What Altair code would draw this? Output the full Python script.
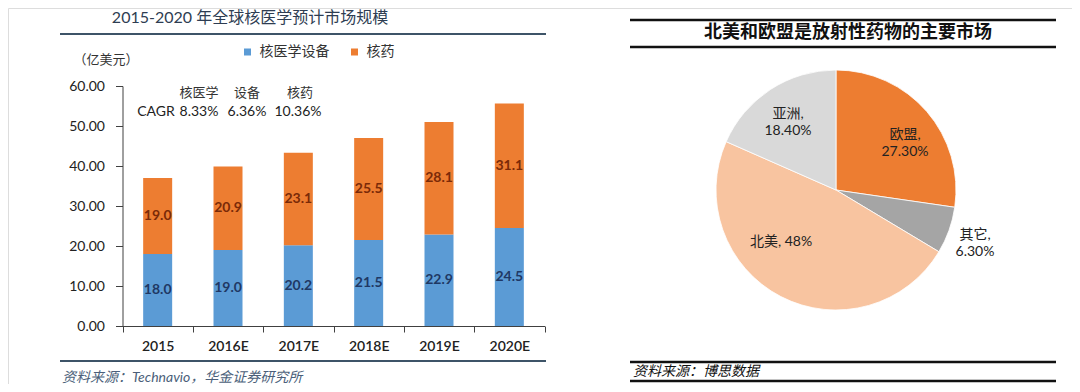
import altair as alt
import pandas as pd

# ---------------- data ----------------
years = ['2015', '2016E', '2017E', '2018E', '2019E', '2020E']
equipment = [18.0, 19.0, 20.2, 21.5, 22.9, 24.5]
drugs = [19.0, 20.9, 23.1, 25.5, 28.1, 31.1]
series_names = ['核医学设备', '核药']
y_ticks = [0, 10, 20, 30, 40, 50, 60]
cagr_heads = ['核医学', '设备', '核药']
cagr_values = ['8.33%', '6.36%', '10.36%']

regions = ['欧盟', '其它', '北美', '亚洲']
shares = [27.3, 6.3, 48.0, 18.4]
share_texts = ['27.30%', '6.30%', '48%', '18.40%']

# ---------------- styles ----------------
series_colors = ['#5b9bd5', '#ed7d31']
label_colors = ['#1f3864', '#7a2a08']
region_colors = ['#ed7d31', '#a5a5a5', '#f8c4a0', '#d9d9d9']
FONT = 'Lato, Noto Sans CJK SC, sans-serif'
CJK = 'Noto Sans CJK SC, sans-serif'
OX, OY = 8, 8  # page margin

rows = []
for i, yr in enumerate(years):
    rows.append(dict(year=yr, series=series_names[0], value=equipment[i], order=0))
    rows.append(dict(year=yr, series=series_names[1], value=drugs[i], order=1))
bars_df = pd.DataFrame(rows)
pie_df = pd.DataFrame(dict(region=regions, share=shares, idx=list(range(len(regions)))))

xscale = alt.Scale(domain=years, range=[114.5, 536.5], paddingInner=0, paddingOuter=0)
yscale = alt.Scale(domain=[0, 60], range=[318, 78], nice=False)

x_axis = alt.Axis(title=None, orient='bottom', offset=-58, tickBand='extent', tickSize=6,
                  domainColor='#404040', tickColor='#404040', labelFontSize=14,
                  labelFontWeight=600, labelColor='#222222', labelPadding=7,
                  labelFont=FONT, labelAngle=0)
y_axis = alt.Axis(title=None, orient='left', offset=-114.5, values=y_ticks, format='.2f',
                  grid=False, tickSize=7, labelPadding=11, domainColor='#404040',
                  tickColor='#404040', labelFontSize=14, labelColor='#222222', labelFont=FONT)

bars = alt.Chart(bars_df).mark_bar(size=29).encode(
    x=alt.X('year:N', scale=xscale, axis=x_axis, sort=years),
    y=alt.Y('value:Q', scale=yscale, axis=y_axis, stack='zero'),
    color=alt.Color('series:N', scale=alt.Scale(domain=series_names, range=series_colors),
                    legend=alt.Legend(title=None, orient='none', legendX=232.5, legendY=37,
                                      direction='horizontal', symbolType='square',
                                      symbolSize=49, symbolStrokeWidth=0, labelFontSize=14,
                                      labelFont=CJK, labelColor='#333333', labelOffset=5,
                                      columnPadding=18, padding=0)),
    order=alt.Order('order:Q'),
)

bar_labels = alt.Chart(bars_df).transform_stack(
    stack='value', groupby=['year'], as_=['v0', 'v1'],
    sort=[alt.SortField('order', order='ascending')]
).transform_calculate(
    mid='(datum.v0 + datum.v1) / 2', lbl="format(datum.value, '.1f')"
).mark_text(fontSize=14, fontWeight='bold', font=FONT).encode(
    x=alt.X('year:N', scale=xscale, axis=x_axis, sort=years),
    y=alt.Y('mid:Q', scale=yscale, axis=y_axis),
    text='lbl:N',
    color=alt.Color('series:N', scale=alt.Scale(domain=series_names, range=label_colors), legend=None),
)

pie = alt.Chart(pie_df).mark_arc(radius=120, stroke='white', strokeWidth=0.8).encode(
    theta=alt.Theta('share:Q', stack=True),
    order=alt.Order('idx:Q'),
    color=alt.Color('region:N', scale=alt.Scale(domain=regions, range=region_colors), legend=None),
    x=alt.value(836 - OX), y=alt.value(190 - OY),
)


def txt(s, x, y, size=14, color='#222222', weight='normal', align='center',
        style='normal', font=FONT):
    return alt.Chart(pd.DataFrame({'t': [s]})).mark_text(
        align=align, baseline='middle', fontSize=size, color=color, fontWeight=weight,
        fontStyle=style, font=font, lineBreak='\n', lineHeight=17
    ).encode(x=alt.value(x - OX), y=alt.value(y - OY), text='t:N')


def hrule(x1, x2, y, color, w):
    return alt.Chart(pd.DataFrame({'a': [0]})).mark_rule(color=color, strokeWidth=w).encode(
        x=alt.value(x1 - OX), x2=alt.value(x2 - OX), y=alt.value(y - OY))


layers = [
    bars, bar_labels, pie,
    # left panel decorations
    txt('2015-2020 年全球核医学预计市场规模', 250, 18, size=16, color='#2e3d52'),
    hrule(60, 546, 34, '#3e5468', 2),
    txt('（亿美元）', 106, 60, size=13, color='#333333', font=CJK),
    txt(cagr_heads[0], 199, 93, size=13, color='#333333', font=CJK),
    txt(cagr_heads[1], 247, 93, size=13, color='#333333', font=CJK),
    txt(cagr_heads[2], 300, 93, size=13, color='#333333', font=CJK),
    txt('CAGR', 156, 112, size=14, color='#222222'),
    txt(cagr_values[0], 199, 112, size=14, color='#222222'),
    txt(cagr_values[1], 247, 112, size=14, color='#222222'),
    txt(cagr_values[2], 298, 112, size=14, color='#222222'),
    hrule(60, 546, 361, '#3e5468', 2),
    txt('资料来源：Technavio，华金证券研究所', 62, 378, size=14, color='#4b5f7a',
        align='left', style='italic'),
    # right panel decorations
    hrule(630, 1056, 20, '#111111', 2.5),
    txt('北美和欧盟是放射性药物的主要市场', 848, 33, size=18, color='#111111', weight='bold', font=CJK),
    hrule(630, 1056, 47, '#111111', 2.5),
    txt(f'{regions[3]},\n{share_texts[3]}', 788, 114, size=14),
    txt(f'{regions[0]},\n{share_texts[0]}', 905, 135, size=14),
    txt(f'{regions[1]},\n{share_texts[1]}', 975, 235, size=14),
    txt(f'{regions[2]}, {share_texts[2]}', 781, 242, size=14),
    hrule(630, 1056, 362, '#111111', 2.5),
    txt('资料来源：博思数据', 633, 372, size=14, color='#111111', align='left',
        style='italic', font=CJK),
    hrule(630, 1056, 381, '#111111', 2.5),
]

chart = alt.layer(*layers).resolve_scale(color='independent').properties(
    width=1064, height=376, autosize=alt.AutoSizeParams(type='none'), padding=0,
    background='white'
).configure_view(stroke=None).configure(font=FONT)

chart.save('out.html', embed_options={'renderer': 'svg', 'actions': False})
